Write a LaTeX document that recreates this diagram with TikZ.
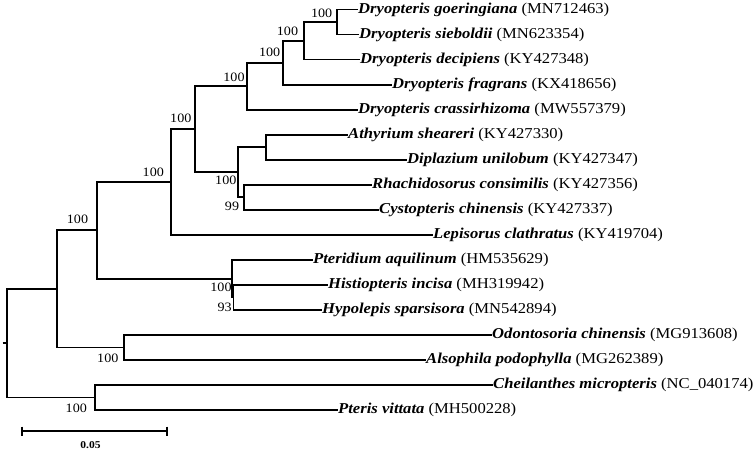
\documentclass[tikz,border=0pt]{standalone}
\usepackage{fontspec}
\setmainfont{Liberation Serif}[FakeStretch=1.1]
\begin{document}
\begin{tikzpicture}[x=1pt,y=-1pt,
  br/.style={line width=1.8pt},
  taxon/.style={anchor=west, inner sep=0pt, font=\fontsize{15.1}{18}\selectfont},
  bs/.style={inner sep=0pt, font=\fontsize{12.8}{15}\selectfont},
  scalelab/.style={inner sep=0pt, font=\fontsize{10.5}{12}\selectfont\bfseries}]
\useasboundingbox (0,0) rectangle (755,452);
% internal nodes
\coordinate (A) at (337,22.0);
\coordinate (B) at (304,40.8);
\coordinate (C) at (283,62.7);
\coordinate (D) at (247,86.2);
\coordinate (E) at (266,147.2);
\coordinate (F) at (244,197.2);
\coordinate (G) at (238,172.2);
\coordinate (H) at (195,129.2);
\coordinate (I) at (171,182.0);
\coordinate (J) at (233.5,297.4);
\coordinate (K) at (232,278.6);
\coordinate (L) at (97,230.3);
\coordinate (M) at (124,347.4);
\coordinate (N) at (57,288.9);
\coordinate (O) at (95,397.5);
\coordinate (R) at (7,343.2);
\coordinate (R0) at (2.5,343.2);
% taxa
\node[taxon] (t0) at (358,9.5) {\textbf{\textit{Dryopteris goeringiana}} (MN712463)};
\node[taxon] (t1) at (359,34.5) {\textbf{\textit{Dryopteris sieboldii}} (MN623354)};
\node[taxon] (t2) at (360,59.6) {\textbf{\textit{Dryopteris decipiens}} (KY427348)};
\node[taxon] (t3) at (392,84.6) {\textbf{\textit{Dryopteris fragrans}} (KX418656)};
\node[taxon] (t4) at (358,109.6) {\textbf{\textit{Dryopteris crassirhizoma}} (MW557379)};
\node[taxon] (t5) at (348,134.7) {\textbf{\textit{Athyrium sheareri}} (KY427330)};
\node[taxon] (t6) at (407,159.7) {\textbf{\textit{Diplazium unilobum}} (KY427347)};
\node[taxon] (t7) at (372,184.7) {\textbf{\textit{Rhachidosorus consimilis}} (KY427356)};
\node[taxon] (t8) at (379,209.7) {\textbf{\textit{Cystopteris chinensis}} (KY427337)};
\node[taxon] (t9) at (433,234.8) {\textbf{\textit{Lepisorus clathratus}} (KY419704)};
\node[taxon] (t10) at (313,259.8) {\textbf{\textit{Pteridium aquilinum}} (HM535629)};
\node[taxon] (t11) at (328,284.8) {\textbf{\textit{Histiopteris incisa}} (MH319942)};
\node[taxon] (t12) at (322,309.9) {\textbf{\textit{Hypolepis sparsisora}} (MN542894)};
\node[taxon] (t13) at (492,334.9) {\textbf{\textit{Odontosoria chinensis}} (MG913608)};
\node[taxon] (t14) at (426,359.9) {\textbf{\textit{Alsophila podophylla}} (MG262389)};
\node[taxon] (t15) at (493,385.0) {\textbf{\textit{Cheilanthes micropteris}} (NC\_040174)};
\node[taxon] (t16) at (338,410.0) {\textbf{\textit{Pteris vittata}} (MH500228)};
% branches
\draw[br] (A) |- (t0.west);
\draw[br] (A) |- (t1.west);
\draw[br] (B) |- (A);
\draw[br] (B) |- (t2.west);
\draw[br] (C) |- (B);
\draw[br] (C) |- (t3.west);
\draw[br] (D) |- (C);
\draw[br] (D) |- (t4.west);
\draw[br] (E) |- (t5.west);
\draw[br] (E) |- (t6.west);
\draw[br] (F) |- (t7.west);
\draw[br] (F) |- (t8.west);
\draw[br] (G) |- (E);
\draw[br] (G) |- (F);
\draw[br] (H) |- (D);
\draw[br] (H) |- (G);
\draw[br] (I) |- (H);
\draw[br] (I) |- (t9.west);
\draw[br] (J) |- (t11.west);
\draw[br] (J) |- (t12.west);
\draw[br] (K) |- (t10.west);
\draw[br] (K) |- (J);
\draw[br] (L) |- (I);
\draw[br] (L) |- (K);
\draw[br] (M) |- (t13.west);
\draw[br] (M) |- (t14.west);
\draw[br] (N) |- (L);
\draw[br] (N) |- (M);
\draw[br] (O) |- (t15.west);
\draw[br] (O) |- (t16.west);
\draw[br] (R) |- (N);
\draw[br] (R) |- (O);
\draw[br] (R0) -- (R);
% bootstrap values
\node[bs] (bA) at (321.7,13.8) {100};
\node[bs] (bB) at (287.5,31.2) {100};
\node[bs] (bC) at (269.7,52.8) {100};
\node[bs] (bD) at (234,77.2) {100};
\node[bs] (bH) at (180.8,118.7) {100};
\node[bs] (bI) at (153.3,172.8) {100};
\node[bs] (bL) at (77.5,219.5) {100};
\node[bs] (bG) at (225.8,180.7) {100};
\node[bs] (bF) at (232,206.2) {99};
\node[bs] (bK) at (221,287.3) {100};
\node[bs] (bJ) at (224.7,307) {93};
\node[bs] (bM) at (107.8,358.2) {100};
\node[bs] (bO) at (76.3,408.3) {100};
% scale bar
\coordinate (s1) at (22,431);
\coordinate (s2) at (167,431);
\draw[br] (s1) -- (s2);
\draw[br] (s1) ++(0,-4.5) -- ++(0,9);
\draw[br] (s2) ++(0,-4.5) -- ++(0,9);
\node[scalelab] (sl) at (90.5,445) {0.05};
\end{tikzpicture}
\end{document}
